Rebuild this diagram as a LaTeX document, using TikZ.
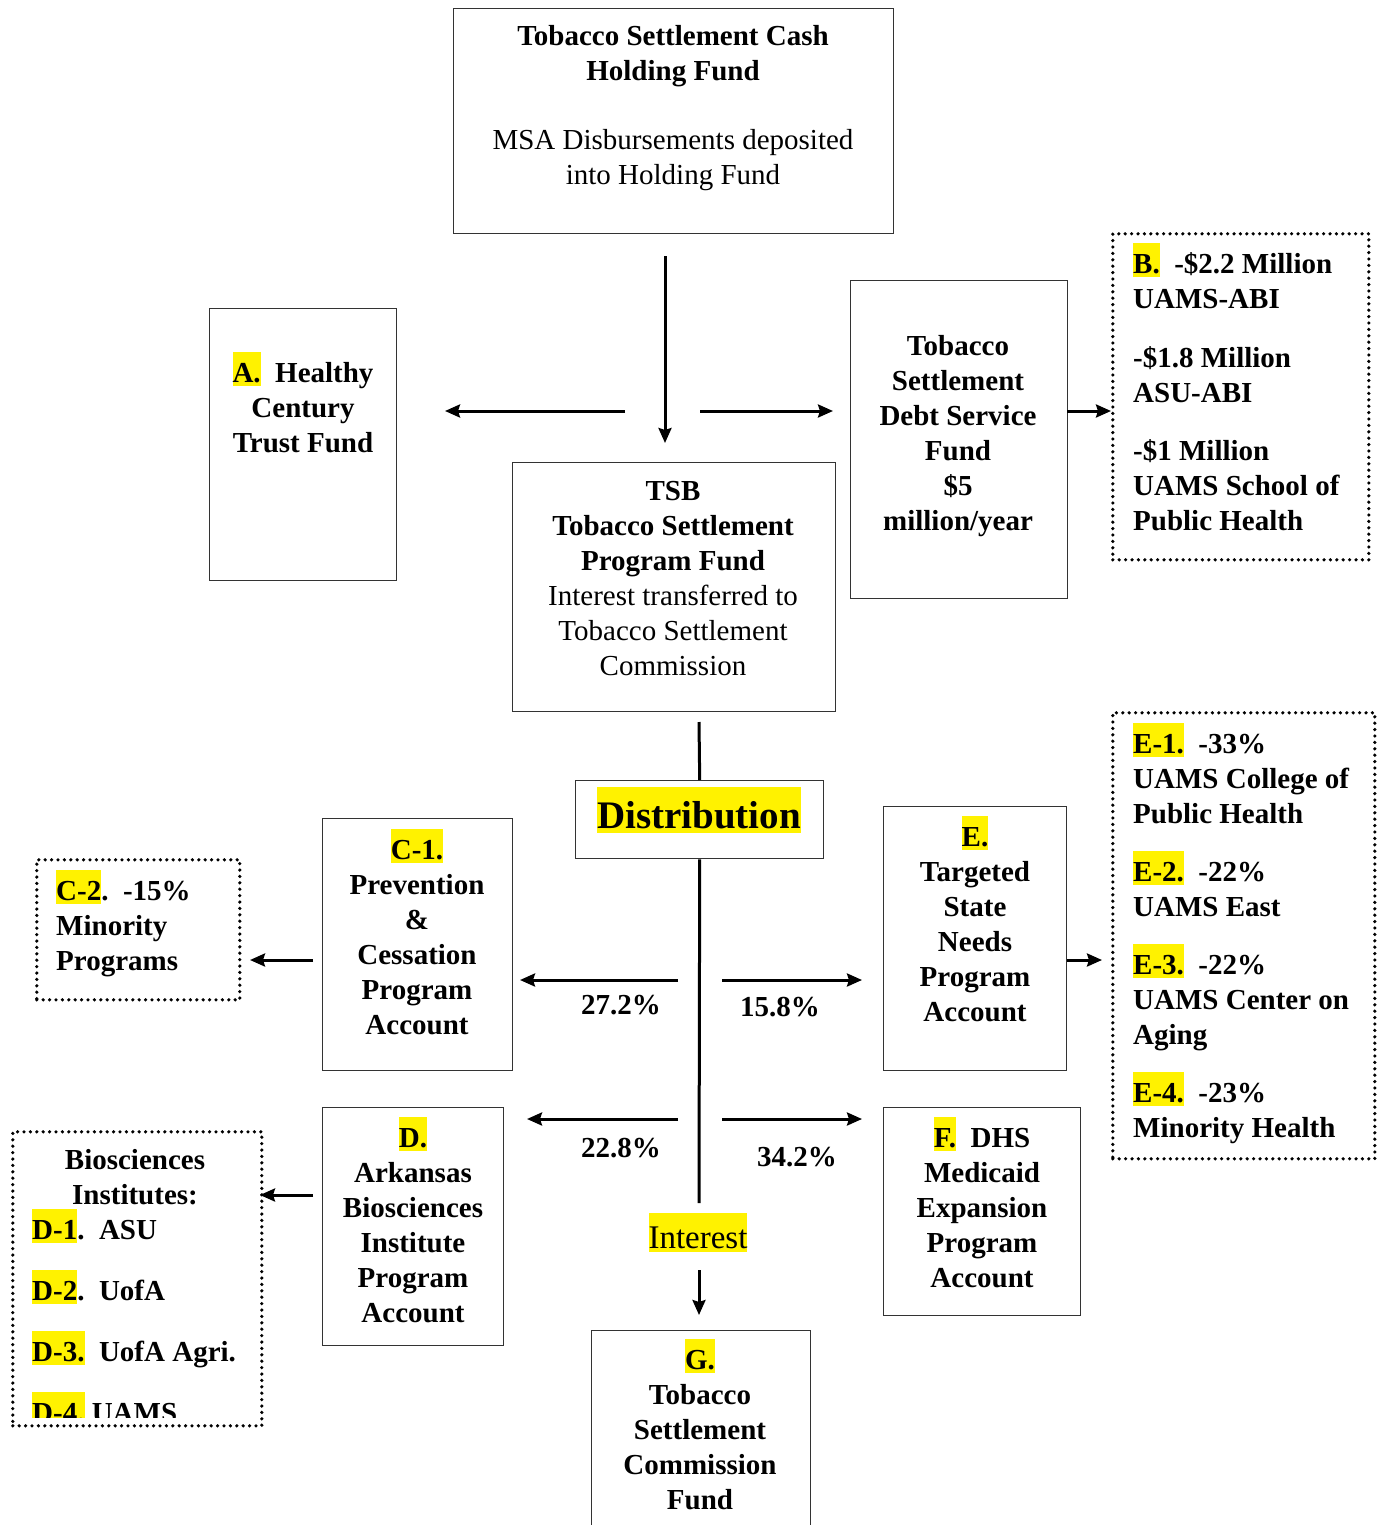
\documentclass[tikz,border=0pt]{standalone}
\usepackage{fontspec}
\setmainfont{Liberation Serif}
\usetikzlibrary{arrows.meta,positioning}
\lineskiplimit=-100pt
\newcommand{\hl}[1]{{\setlength{\fboxsep}{0pt}\colorbox{yellow}{\rule[-0.13em]{0pt}{1.18em}#1}}}

\begin{document}
\begin{tikzpicture}[x=1pt,y=-1pt,
    box/.style={draw=black!80,line width=1.4pt,anchor=north west,inner sep=0pt},
    dotbox/.style={draw,line width=3.6pt,dash pattern=on 0pt off 6.4pt,line cap=round,anchor=north west,inner sep=0pt},
    txt/.style={font=\fontsize{29}{35}\selectfont\bfseries,align=center,inner sep=0pt,anchor=base},
    arr/.style={-{Stealth[length=15pt,width=13pt,inset=2pt]},line width=3pt},
    link/.style={line width=3pt}]
  \useasboundingbox (0,0) rectangle (1380,1525);

  % boxes
  \node[box,minimum width=440pt,minimum height=225pt] (hold) at (453,8) {};
  \node[box,minimum width=187pt,minimum height=272pt] (fundA) at (209,308) {};
  \node[box,minimum width=323pt,minimum height=249pt] (tsb) at (512,462) {};
  \node[box,minimum width=217pt,minimum height=318pt] (debt) at (850,280) {};
  \node[dotbox,minimum width=256pt,minimum height=326pt] (bdots) at (1111,232) {};
  \node[box,minimum width=248pt,minimum height=78pt] (dist) at (575,780) {};
  \node[box,minimum width=190pt,minimum height=252pt] (cone) at (322,818) {};
  \node[dotbox,minimum width=203pt,minimum height=140pt] (ctwo) at (35,858) {};
  \node[box,minimum width=183pt,minimum height=264pt] (etgt) at (883,806) {};
  \node[dotbox,minimum width=262pt,minimum height=446pt] (edots) at (1111,711) {};
  \node[box,minimum width=181pt,minimum height=238pt] (dbio) at (322,1107) {};
  \node[dotbox,minimum width=249pt,minimum height=294pt] (ddots) at (11,1130) {};
  \node[box,minimum width=197pt,minimum height=208pt] (fdhs) at (883,1107) {};
  \node[box,minimum width=219pt,minimum height=240pt] (gcom) at (591,1330) {};

  % texts (placed by the baseline of their last line)
  \node[txt] (hold-txt) at (673,185) {Tobacco Settlement Cash\\Holding Fund\\[34pt]{\mdseries MSA Disbursements deposited}\\{\mdseries into Holding Fund}};
  \node[txt] (fundA-txt) at (303,452) {\hl{A.}~~Healthy\\Century\\Trust Fund};
  \node[txt] (tsb-txt) at (673,675) {TSB\\Tobacco Settlement\\Program Fund\\{\mdseries Interest transferred to}\\{\mdseries Tobacco Settlement}\\{\mdseries Commission}};
  \node[txt] (debt-txt) at (958,530) {Tobacco\\Settlement\\Debt Service\\Fund\\\$5\\million/year};
  \node[txt,align=left,anchor=base west] (bdots-txt) at (1133,530) {\hl{B.}~~-\$2.2 Million\\UAMS-ABI\\[24pt]-\$1.8 Million\\ASU-ABI\\[23pt]-\$1 Million\\UAMS School of\\Public Health};
  \node[txt,font=\fontsize{39}{45}\selectfont\bfseries] (dist-txt) at (699,828) {\hl{Distribution}};
  \node[txt] (cone-txt) at (417,1034) {\hl{C-1.}\\Prevention\\\&\\Cessation\\Program\\Account};
  \node[txt,align=left,anchor=base west] (ctwo-txt) at (56,970) {\hl{C-2}.~~-15\%\\Minority\\Programs};
  \node[txt] (etgt-txt) at (975,1021) {\hl{E.}\\Targeted\\State\\Needs\\Program\\Account};
  \node[txt,align=left,anchor=base west] (edots-txt) at (1133,1137) {\hl{E-1.}~~-33\%\\UAMS College of\\Public Health\\[23pt]\hl{E-2.}~~-22\%\\UAMS East\\[23pt]\hl{E-3.}~~-22\%\\UAMS Center on\\Aging\\[23pt]\hl{E-4.}~~-23\%\\Minority Health};
  \node[txt] (dbio-txt) at (413,1322) {\hl{D.}\\Arkansas\\Biosciences\\Institute\\Program\\Account};
  \node[txt] (ddots-head) at (135,1204) {Biosciences\\Institutes:};
  \begin{scope}
    \clip (11,1130) rectangle (260,1417);
    \node[txt,align=left,anchor=base west] (ddots-txt) at (32,1422) {\hl{D-1}.~~ASU\\[26pt]\hl{D-2}.~~UofA\\[26pt]\hl{D-3.}~~UofA Agri.\\[26pt]\hl{D-4.}~UAMS};
  \end{scope}
  \node[txt] (fdhs-txt) at (982,1287) {\hl{F.}~~DHS\\Medicaid\\Expansion\\Program\\Account};
  \node[txt] (gcom-txt) at (700,1509) {\hl{G.}\\Tobacco\\Settlement\\Commission\\Fund};
  \node[txt,font=\fontsize{33}{40}\selectfont] (int-txt) at (698,1248) {\hl{Interest}};

  % shares
  \node[txt] (p272) at (621,1014) {27.2\%};
  \node[txt] (p158) at (780,1016) {15.8\%};
  \node[txt] (p228) at (621,1157) {22.8\%};
  \node[txt] (p342) at (797,1166) {34.2\%};

  % free ends
  \coordinate (hold-out) at (665,256);
  \coordinate (tsb-in) at (665,443);
  \coordinate (split-l) at (625,411);
  \coordinate (fundA-in) at (445,411);
  \coordinate (split-r) at (700,411);
  \coordinate (debt-in) at (833,411);
  \coordinate (debt-out) at (1067,411);
  \coordinate (bdots-in) at (1111,411);
  \coordinate (tsb-out) at (699,722);
  \coordinate (trunk-end) at (699,1203);
  \coordinate (int-out) at (699,1270);
  \coordinate (gcom-in) at (699,1315);
  \coordinate (c-from) at (678,980);
  \coordinate (cone-in) at (520,980);
  \coordinate (e-from) at (722,980);
  \coordinate (etgt-in) at (862,980);
  \coordinate (d-from) at (678,1119);
  \coordinate (dbio-in) at (527,1119);
  \coordinate (f-from) at (722,1119);
  \coordinate (fdhs-in) at (862,1119);
  \coordinate (cone-out) at (313,960);
  \coordinate (ctwo-in) at (250,960);
  \coordinate (dbio-out) at (313,1195);
  \coordinate (ddots-in) at (260,1195);
  \coordinate (etgt-out) at (1067,960);
  \coordinate (edots-in) at (1102,960);

  % connectors
  \draw[arr] (hold-out) -- (tsb-in);
  \draw[arr] (split-l) -- (fundA-in);
  \draw[arr] (split-r) -- (debt-in);
  \draw[arr] (debt-out) -- (bdots-in);
  \draw[link] (tsb-out) -- (dist.north);
  \draw[link] (dist.south) -- (trunk-end);
  \draw[arr] (int-out) -- (gcom-in);
  \draw[arr] (c-from) -- (cone-in);
  \draw[arr] (e-from) -- (etgt-in);
  \draw[arr] (d-from) -- (dbio-in);
  \draw[arr] (f-from) -- (fdhs-in);
  \draw[arr] (cone-out) -- (ctwo-in);
  \draw[arr] (dbio-out) -- (ddots-in);
  \draw[arr] (etgt-out) -- (edots-in);
\end{tikzpicture}
\end{document}
